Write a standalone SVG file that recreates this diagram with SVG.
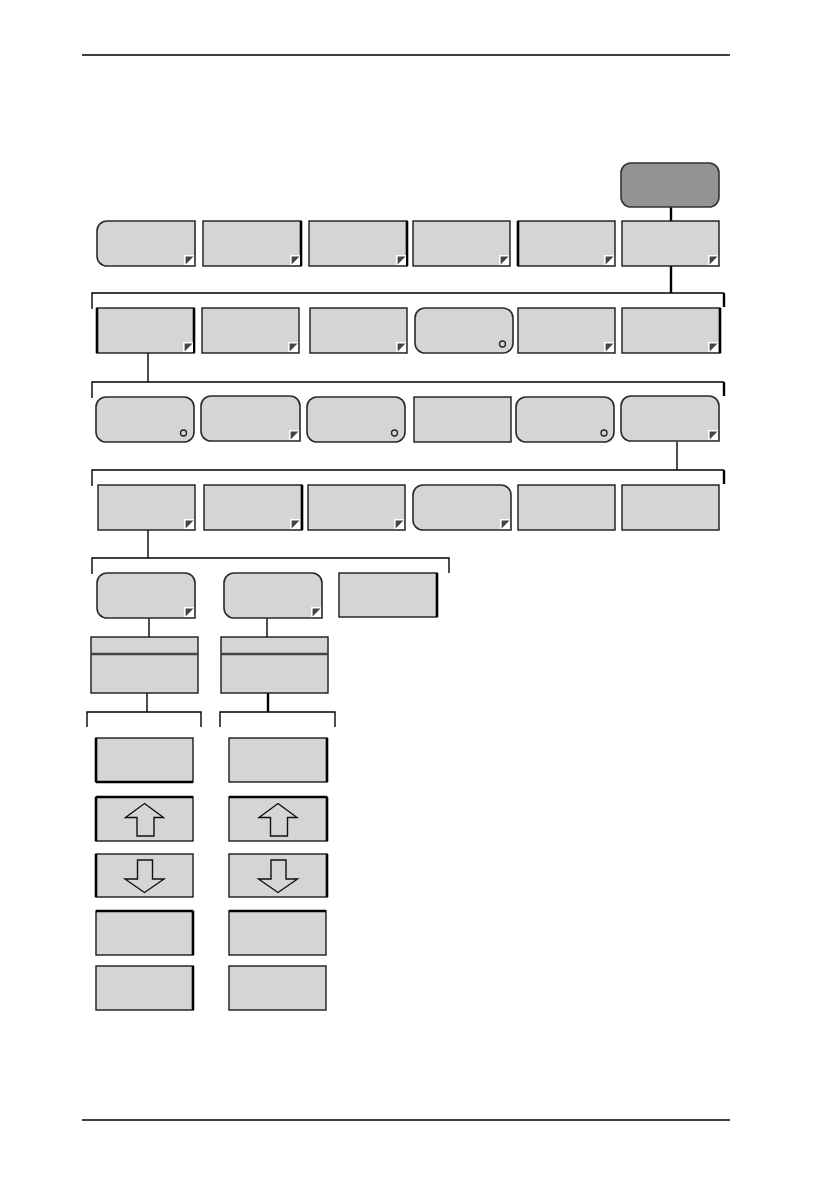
<svg xmlns="http://www.w3.org/2000/svg" xmlns:xlink="http://www.w3.org/1999/xlink" width="840" height="1190" viewBox="0 0 840 1190">
<style>
.n{fill:#d5d5d5;stroke:#1a1a1a;stroke-width:1.4}
.r{fill:#d5d5d5;stroke:#2a2a2a;stroke-width:1.6}
.top{fill:#939393;stroke:#333;stroke-width:1.6}
.c{fill:none;stroke:#000;stroke-width:1.4}
.ck{fill:none;stroke:#000;stroke-width:2.4}
.t{stroke:#000;stroke-width:2.6;fill:none}
.circ{fill:none;stroke:#222;stroke-width:1.3}
.arr{fill:#d5d5d5;stroke:#111;stroke-width:1.4;stroke-linejoin:miter}
.rule{stroke:#000;stroke-width:1.3}
</style>
<defs>
<g id="ico"><rect x="0" y="0" width="10" height="10" fill="#fff"/><polygon points="1.6,1.6 9.5,1.6 1.6,9.5" fill="#444"/></g>
</defs>
<line class="rule" x1="82" y1="55" x2="730" y2="55"/>
<line class="rule" x1="82" y1="1120" x2="730" y2="1120"/>
<g id="connectors">
<line class="ck" x1="671" y1="207" x2="671" y2="221"/>
<line class="ck" x1="671" y1="266" x2="671" y2="293"/>
<path class="c" d="M92,309 V293 H724"/><line class="ck" x1="724" y1="293" x2="724" y2="307"/>
<line class="c" x1="148" y1="353" x2="148" y2="382"/>
<path class="c" d="M92,398 V382 H724"/><line class="ck" x1="724" y1="382" x2="724" y2="396"/>
<line class="c" x1="677" y1="442" x2="677" y2="470"/>
<path class="c" d="M92,486 V470 H724"/><line class="ck" x1="724" y1="470" x2="724" y2="484"/>
<line class="c" x1="148" y1="530" x2="148" y2="558"/>
<path class="c" d="M92,574 V558 H449 V573"/>
<line class="c" x1="149" y1="618" x2="149" y2="637"/>
<line class="c" x1="267" y1="618" x2="267" y2="637"/>
<line class="c" x1="147" y1="693" x2="147" y2="712"/>
<line class="ck" x1="268" y1="693" x2="268" y2="712"/>
<path class="c" d="M87,727 V712 H201 V727"/>
<path class="c" d="M220,727 V712 H335 V727"/>
</g>
<g id="root"><rect class="top" x="621" y="163" width="98" height="44" rx="10"/></g>
<!-- Row 1 -->
<g id="r1n1"><path class="r" d="M107,221 H195 V266 H107 A10,10 0 0 1 97,256 V231 A10,10 0 0 1 107,221 Z"/><use xlink:href="#ico" x="184" y="255"/></g>
<g id="r1n2"><rect class="n" x="203" y="221" width="98" height="45"/><line class="t" x1="301" y1="221" x2="301" y2="266"/><use xlink:href="#ico" x="290" y="255"/></g>
<g id="r1n3"><rect class="n" x="309" y="221" width="98" height="45"/><line class="t" x1="407" y1="221" x2="407" y2="266"/><use xlink:href="#ico" x="396" y="255"/></g>
<g id="r1n4"><rect class="n" x="413" y="221" width="97" height="45"/><use xlink:href="#ico" x="499" y="255"/></g>
<g id="r1n5"><rect class="n" x="518" y="221" width="97" height="45"/><line class="t" x1="518" y1="221" x2="518" y2="266"/><use xlink:href="#ico" x="604" y="255"/></g>
<g id="r1n6"><rect class="n" x="622" y="221" width="97" height="45"/><use xlink:href="#ico" x="708" y="255"/></g>
<!-- Row 2 -->
<g id="r2n1"><rect class="n" x="97" y="308" width="97" height="45"/><line class="t" x1="97" y1="308" x2="97" y2="353"/><line class="t" x1="194" y1="308" x2="194" y2="353"/><use xlink:href="#ico" x="183" y="342"/></g>
<g id="r2n2"><rect class="n" x="202" y="308" width="97" height="45"/><use xlink:href="#ico" x="288" y="342"/></g>
<g id="r2n3"><rect class="n" x="310" y="308" width="97" height="45"/><use xlink:href="#ico" x="396" y="342"/></g>
<g id="r2n4"><rect class="r" x="415" y="308" width="98" height="45" rx="10"/><circle class="circ" cx="502.5" cy="344" r="3"/></g>
<g id="r2n5"><rect class="n" x="518" y="308" width="97" height="45"/><use xlink:href="#ico" x="604" y="342"/></g>
<g id="r2n6"><rect class="n" x="622" y="308" width="98" height="45"/><line class="t" x1="720" y1="308" x2="720" y2="353"/><use xlink:href="#ico" x="708" y="342"/></g>
<!-- Row 3 -->
<g id="r3n1"><rect class="r" x="96" y="397" width="98" height="45" rx="10"/><circle class="circ" cx="183.5" cy="433" r="3"/></g>
<g id="r3n2"><path class="r" d="M211,396 H290 A10,10 0 0 1 300,406 V441 H211 A10,10 0 0 1 201,431 V406 A10,10 0 0 1 211,396 Z"/><use xlink:href="#ico" x="289" y="430"/></g>
<g id="r3n3"><rect class="r" x="307" y="397" width="98" height="45" rx="10"/><circle class="circ" cx="394.5" cy="433" r="3"/></g>
<g id="r3n4"><rect class="n" x="414" y="397" width="97" height="45"/></g>
<g id="r3n5"><rect class="r" x="516" y="397" width="98" height="45" rx="10"/><circle class="circ" cx="604" cy="433" r="3"/></g>
<g id="r3n6"><path class="r" d="M631,396 H709 A10,10 0 0 1 719,406 V441 H631 A10,10 0 0 1 621,431 V406 A10,10 0 0 1 631,396 Z"/><use xlink:href="#ico" x="708" y="430"/></g>
<!-- Row 4 -->
<g id="r4n1"><rect class="n" x="98" y="485" width="97" height="45"/><use xlink:href="#ico" x="184" y="519"/></g>
<g id="r4n2"><rect class="n" x="204" y="485" width="98" height="45"/><line class="t" x1="302" y1="485" x2="302" y2="530"/><use xlink:href="#ico" x="290" y="519"/></g>
<g id="r4n3"><rect class="n" x="308" y="485" width="97" height="45"/><use xlink:href="#ico" x="394" y="519"/></g>
<g id="r4n4"><path class="r" d="M423,485 H501 A10,10 0 0 1 511,495 V530 H423 A10,10 0 0 1 413,520 V495 A10,10 0 0 1 423,485 Z"/><use xlink:href="#ico" x="500" y="519"/></g>
<g id="r4n5"><rect class="n" x="518" y="485" width="97" height="45"/></g>
<g id="r4n6"><rect class="n" x="622" y="485" width="97" height="45"/></g>
<!-- Row 5 -->
<g id="r5n1"><path class="r" d="M107,573 H185 A10,10 0 0 1 195,583 V618 H107 A10,10 0 0 1 97,608 V583 A10,10 0 0 1 107,573 Z"/><use xlink:href="#ico" x="184" y="607"/></g>
<g id="r5n2"><path class="r" d="M234,573 H312 A10,10 0 0 1 322,583 V618 H234 A10,10 0 0 1 224,608 V583 A10,10 0 0 1 234,573 Z"/><use xlink:href="#ico" x="311" y="607"/></g>
<g id="r5n3"><rect class="n" x="339" y="573" width="98" height="44"/><line class="t" x1="437" y1="573" x2="437" y2="617"/></g>
<!-- Row 6 list boxes -->
<g id="list1"><rect class="n" x="91" y="637" width="107" height="56"/><line x1="91" y1="654" x2="198" y2="654" stroke="#444" stroke-width="2.4"/></g>
<g id="list2"><rect class="n" x="221" y="637" width="107" height="56"/><line x1="221" y1="654" x2="328" y2="654" stroke="#444" stroke-width="2.4"/></g>
<!-- Column 1 -->
<g id="c1b1"><rect class="n" x="96" y="738" width="97" height="44"/><line class="t" x1="96" y1="738" x2="96" y2="782"/><line class="t" x1="96" y1="782" x2="193" y2="782"/></g>
<g id="c1b2"><rect class="n" x="96" y="797" width="97" height="44"/><line class="t" x1="96" y1="797" x2="193" y2="797"/><line class="t" x1="96" y1="797" x2="96" y2="841"/><polygon class="arr" points="144.5,803.5 163.5,817.5 154,817.5 154,836 137,836 137,817.5 125.5,817.5"/></g>
<g id="c1b3"><rect class="n" x="96" y="854" width="97" height="43"/><line class="t" x1="96" y1="854" x2="96" y2="897"/><polygon class="arr" points="137.5,860 152.5,860 152.5,879 164,879 144.5,892.5 125,879 137.5,879"/></g>
<g id="c1b4"><rect class="n" x="96" y="911" width="97" height="44"/><line class="t" x1="96" y1="911" x2="193" y2="911"/><line class="t" x1="193" y1="911" x2="193" y2="955"/></g>
<g id="c1b5"><rect class="n" x="96" y="966" width="97" height="44"/><line class="t" x1="193" y1="966" x2="193" y2="1010"/></g>
<!-- Column 2 -->
<g id="c2b1"><rect class="n" x="229" y="738" width="98" height="44"/><line class="t" x1="327" y1="738" x2="327" y2="782"/></g>
<g id="c2b2"><rect class="n" x="229" y="797" width="98" height="44"/><line class="t" x1="229" y1="797" x2="327" y2="797"/><line class="t" x1="327" y1="797" x2="327" y2="841"/><polygon class="arr" transform="translate(133.5,0)" points="144.5,803.5 163.5,817.5 154,817.5 154,836 137,836 137,817.5 125.5,817.5"/></g>
<g id="c2b3"><rect class="n" x="229" y="854" width="98" height="43"/><line class="t" x1="327" y1="854" x2="327" y2="897"/><polygon class="arr" transform="translate(133.5,0)" points="137.5,860 152.5,860 152.5,879 164,879 144.5,892.5 125,879 137.5,879"/></g>
<g id="c2b4"><rect class="n" x="229" y="911" width="97" height="44"/><line class="t" x1="229" y1="911" x2="326" y2="911"/></g>
<g id="c2b5"><rect class="n" x="229" y="966" width="97" height="44"/></g>
</svg>
